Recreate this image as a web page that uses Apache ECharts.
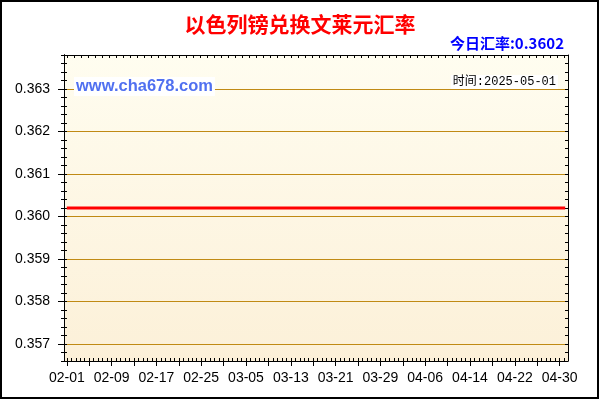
<!DOCTYPE html>
<html>
<head>
<meta charset="utf-8">
<script src="https://cdn.jsdelivr.net/npm/echarts@6/dist/echarts.min.js"></script>
<style>
html,body{margin:0;padding:0;background:#fff;}
#c{width:600px;height:400px;}
</style>
</head>
<body>
<div id="c"></div>
<script>
// ---- data ----
const titleText = '以色列镑兑换文莱元汇率';
const todayText = '今日汇率:0.3602';
const timeText = '时间:2025-05-01';
const siteText = 'www.cha678.com';
const dates = [
 '02-01','02-02','02-03','02-04','02-05','02-06','02-07','02-08','02-09','02-10',
 '02-11','02-12','02-13','02-14','02-15','02-16','02-17','02-18','02-19','02-20',
 '02-21','02-22','02-23','02-24','02-25','02-26','02-27','02-28','03-01','03-02',
 '03-03','03-04','03-05','03-06','03-07','03-08','03-09','03-10','03-11','03-12',
 '03-13','03-14','03-15','03-16','03-17','03-18','03-19','03-20','03-21','03-22',
 '03-23','03-24','03-25','03-26','03-27','03-28','03-29','03-30','03-31','04-01',
 '04-02','04-03','04-04','04-05','04-06','04-07','04-08','04-09','04-10','04-11',
 '04-12','04-13','04-14','04-15','04-16','04-17','04-18','04-19','04-20','04-21',
 '04-22','04-23','04-24','04-25','04-26','04-27','04-28','04-29','04-30','05-01'
];
const rates = [
 0.3602,0.3602,0.3602,0.3602,0.3602,0.3602,0.3602,0.3602,0.3602,0.3602,
 0.3602,0.3602,0.3602,0.3602,0.3602,0.3602,0.3602,0.3602,0.3602,0.3602,
 0.3602,0.3602,0.3602,0.3602,0.3602,0.3602,0.3602,0.3602,0.3602,0.3602,
 0.3602,0.3602,0.3602,0.3602,0.3602,0.3602,0.3602,0.3602,0.3602,0.3602,
 0.3602,0.3602,0.3602,0.3602,0.3602,0.3602,0.3602,0.3602,0.3602,0.3602,
 0.3602,0.3602,0.3602,0.3602,0.3602,0.3602,0.3602,0.3602,0.3602,0.3602,
 0.3602,0.3602,0.3602,0.3602,0.3602,0.3602,0.3602,0.3602,0.3602,0.3602,
 0.3602,0.3602,0.3602,0.3602,0.3602,0.3602,0.3602,0.3602,0.3602,0.3602,
 0.3602,0.3602,0.3602,0.3602,0.3602,0.3602,0.3602,0.3602,0.3602,0.3602
];
const yTicks = [0.357, 0.358, 0.359, 0.360, 0.361, 0.362, 0.363];
const yMin = 0.3566, yMax = 0.3638;

// ---- tick positions (styling helpers) ----
const yMinor = [];
for (let k = 0; k <= 36; k++) yMinor.push(+(yMin + k * 0.0002).toFixed(4));
const xMinorBottom = [];
for (let v = 0; v <= 89.3; v += 0.8) xMinorBottom.push(+v.toFixed(2));
const xMinorTop = [];
for (let v = 0; v <= 89.3; v += 1.25) xMinorTop.push(+v.toFixed(2));

const chart = echarts.init(document.getElementById('c'), null, {renderer: 'canvas'});
const black = '#000';
const gridColor = '#C08A14';
const labelFont = {color: '#000', fontSize: 14, fontFamily: 'Liberation Sans, Arial, sans-serif'};

const hiddenY = (pos, inside, len, vals) => ({
  type: 'value', position: pos, min: yMin, max: yMax,
  axisLine: {show: true, onZero: false, lineStyle: {color: black, width: 1}},
  axisTick: {show: true, inside: inside, length: len, customValues: vals, lineStyle: {color: black}},
  axisLabel: {show: false}, splitLine: {show: false}
});

chart.setOption({
  animation: false,
  backgroundColor: '#fff',
  grid: {left: 64, right: 32, top: 55, bottom: 39, show: true, borderWidth: 0,
    backgroundColor: new echarts.graphic.LinearGradient(0, 0, 0, 1, [
      {offset: 0, color: '#FFFDF0'}, {offset: 1, color: '#FCF0D8'}])},
  title: [
    {text: titleText, left: 'center', top: 9,
     textStyle: {color: '#FF0000', fontSize: 21, fontWeight: 'bold', fontFamily: 'Noto Sans CJK SC, sans-serif'}},
    {text: todayText, right: 31, top: 31,
     textStyle: {color: '#0000FF', fontSize: 15, fontWeight: 'bold', fontFamily: 'Noto Sans CJK SC, sans-serif'}}
  ],
  xAxis: [
    {type: 'category', data: dates, boundaryGap: true, position: 'bottom',
     axisLine: {show: true, lineStyle: {color: black}},
     axisTick: {show: true, inside: false, length: 5, interval: 3, alignWithLabel: true, lineStyle: {color: black}},
     axisLabel: Object.assign({interval: 7, margin: 10}, labelFont),
     splitLine: {show: false}},
    {type: 'value', min: -0.5, max: 89.5, position: 'bottom', gridIndex: 0,
     axisLine: {show: false},
     axisTick: {show: true, inside: true, length: 3, customValues: xMinorBottom, lineStyle: {color: black}},
     axisLabel: {show: false}, splitLine: {show: false}},
    {type: 'value', min: -0.5, max: 89.5, position: 'top',
     axisLine: {show: true, lineStyle: {color: black}},
     axisTick: {show: true, inside: true, length: 3, customValues: xMinorTop, lineStyle: {color: black}},
     axisLabel: {show: false}, splitLine: {show: false}}
  ],
  yAxis: [
    {type: 'value', position: 'left', min: yMin, max: yMax,
     axisLine: {show: true, onZero: false, lineStyle: {color: black}},
     axisTick: {show: true, inside: false, length: 6, customValues: yTicks, lineStyle: {color: black}},
     axisLabel: Object.assign({customValues: yTicks, margin: 14,
       formatter: v => v.toFixed(3)}, labelFont),
     splitLine: {show: true, lineStyle: {color: gridColor, width: 1}}},
    hiddenY('left', true, 3, yMinor),
    hiddenY('left', false, 3, yMinor),
    hiddenY('right', true, 3, yMinor)
  ],
  graphic: [
    {type: 'rect', shape: {x: 1, y: 1, width: 597, height: 397}, silent: true,
     style: {fill: null, stroke: '#000', lineWidth: 2}, z: 100},
    {type: 'text', left: 74, top: 77, z: 50,
     style: {text: siteText, fill: '#5070F0', font: 'bold 16.5px Liberation Sans, Arial, sans-serif',
       backgroundColor: '#fff', padding: [1, 2]}},
    {type: 'text', right: 42, top: 75, z: 50,
     style: {text: timeText, fill: '#000', font: '12px Liberation Mono, Noto Sans CJK SC, monospace',
       backgroundColor: '#fff', padding: [1, 2]}}
  ],
  series: [
    {type: 'line', xAxisIndex: 0, yAxisIndex: 0, data: rates, symbol: 'none',
     lineStyle: {color: '#FF0000', width: 3}, z: 10}
  ]
});
</script>
</body>
</html>
